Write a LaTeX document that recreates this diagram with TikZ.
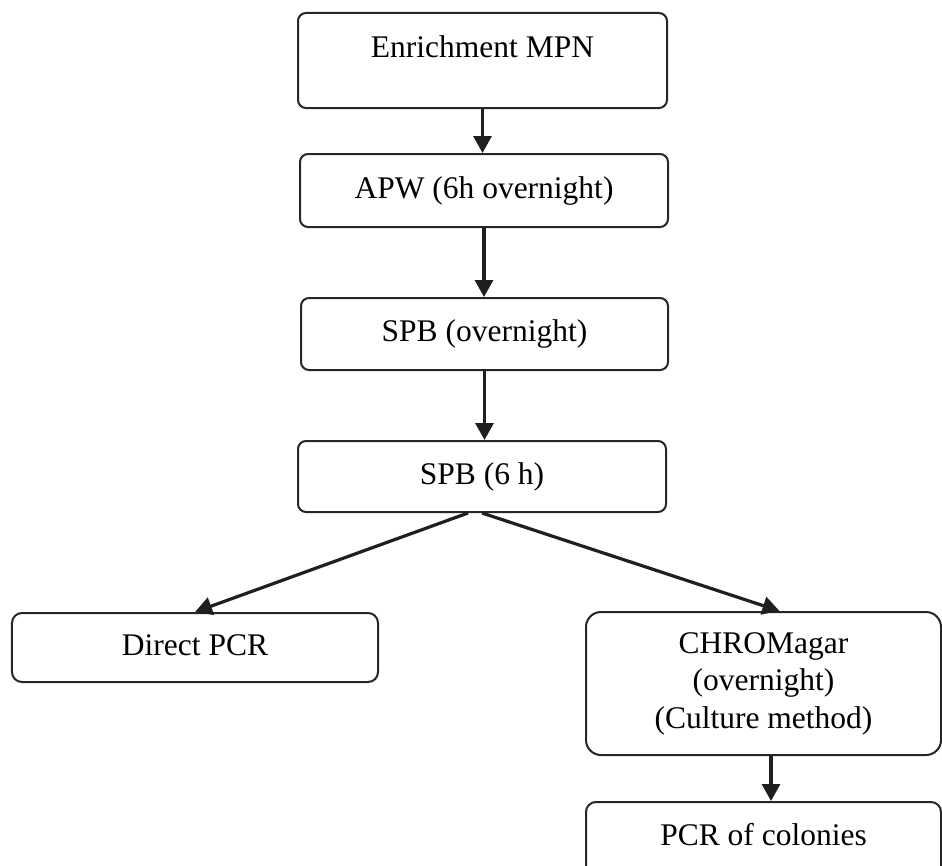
\documentclass[tikz,border=0pt]{standalone}
\usepackage{fontspec}
\setmainfont{Liberation Serif}
\usetikzlibrary{arrows.meta,calc}

\tikzset{
  stagebox/.style={draw=black!85, line width=2bp, rounded corners=8bp,
    inner sep=0pt, align=center, text height=22bp, text depth=7bp,
    font=\fontsize{31.5bp}{37.5bp}\selectfont},
  flow/.style={draw=black!88, line width=3.2bp,
    -{Triangle[length=17bp,width=18bp]}},
}

\begin{document}
\begin{tikzpicture}[x=1bp,y=-1bp]
  \path[use as bounding box] (0,0) rectangle (942,866);
  \clip (0,0) rectangle (942,866);

  % main enrichment chain
  \node (mpn) [stagebox, minimum width=369bp, minimum height=95bp,
    text depth=28bp] at (482.5,60.5) {Enrichment MPN};
  \node (apw) [stagebox, minimum width=368bp, minimum height=73bp]
    at (484,190.5) {APW (6h overnight)};
  \node (spbo) [stagebox, minimum width=367bp, minimum height=72bp]
    at (484.5,334) {SPB (overnight)};
  \node (spb6) [stagebox, minimum width=368bp, minimum height=71bp]
    at (482,476.5) {SPB (6 h)};

  % the two branches
  \node (direct) [stagebox, rounded corners=10bp, minimum width=366bp,
    minimum height=69bp] at (195,647.5) {Direct PCR};
  \node (chrom) [stagebox, rounded corners=15bp, minimum width=355bp,
    minimum height=143bp, text height=, text depth=]
    at (763.5,683.5) {CHROMagar\\(overnight)\\(Culture method)};
  \node (colonies) [stagebox, rounded corners=10bp, minimum width=355bp,
    minimum height=98bp, text depth=34bp] at (763.5,851) {PCR of colonies};

  % connectors
  \draw[flow] (mpn.south) -- (mpn.south |- apw.north);
  \draw[flow] (apw.south) -- (apw.south |- spbo.north);
  \draw[flow] (spbo.south) -- (spbo.south |- spb6.north);

  \coordinate (splitL) at ($(spb6.south)+(-14,0)$);
  \coordinate (splitR) at ($(spb6.south)+(0,0)$);
  \draw[flow] (splitL) -- (direct.north);
  \draw[flow] (splitR) -- ($(chrom.north)+(16,0)$);

  \coordinate (cdown) at ($(chrom.south)+(7.5,0)$);
  \draw[flow] (cdown) -- (cdown |- colonies.north);
\end{tikzpicture}
\end{document}
